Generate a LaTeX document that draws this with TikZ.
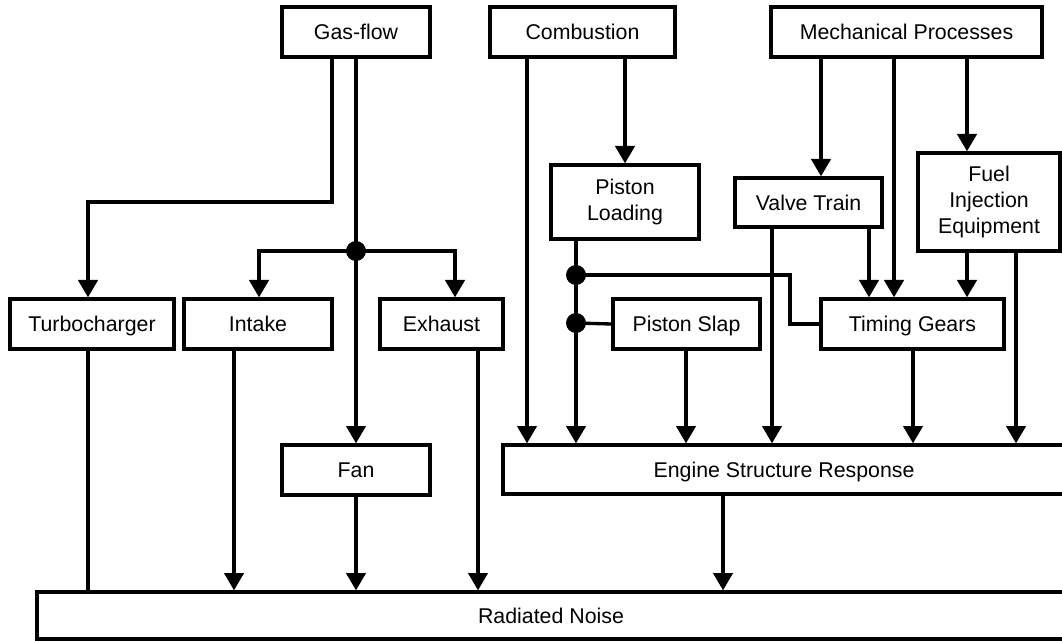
\documentclass[tikz,border=0pt]{standalone}
\usepackage{fontspec}
\setmainfont{Liberation Sans}
\usetikzlibrary{arrows.meta}
\tikzset{
  bx/.style n args={2}{draw=black, line width=2.5pt, fill=white, inner sep=0pt,
    minimum width=#1*0.75pt, minimum height=#2*0.75pt, align=center,
    font=\fontsize{16}{19.5}\selectfont},
  one/.style={text height=13.2pt, text depth=1.7pt},
  arr/.style={line width=2.5pt, -{Triangle[width=14.5pt,length=13pt]}},
  ln/.style={line width=2.5pt},
  jdot/.style={circle, fill=black, inner sep=0pt, minimum size=15pt},
}
\begin{document}
\begin{tikzpicture}[x=0.75pt,y=-0.75pt]
\useasboundingbox (0,0) rectangle (1062,641);
% boxes
\node[bx={148}{50},one] (gas) at (356,32) {Gas-flow};
\node[bx={185}{50},one] (comb) at (582.5,32) {Combustion};
\node[bx={271}{50},one] (mech) at (906.5,32) {Mechanical Processes};
\node[bx={148}{74}] (pload) at (625,202) {Piston\\Loading};
\node[bx={147}{49},one] (valve) at (808.5,202.5) {Valve Train};
\node[bx={142}{98}] (fuel) at (989,202) {Fuel\\Injection\\Equipment};
\node[bx={164}{50},one] (turbo) at (92,324) {Turbocharger};
\node[bx={148}{50},one] (intake) at (258,324) {Intake};
\node[bx={123}{50},one] (exhaust) at (441.5,324) {Exhaust};
\node[bx={147}{50},one] (pslap) at (686.5,324) {Piston Slap};
\node[bx={183}{50},one] (timing) at (912.5,324) {Timing Gears};
\node[bx={148}{50},one] (fan) at (356,470) {Fan};
\node[bx={562}{49},one] (esr) at (784,469.5) {Engine Structure Response};
\node[bx={1028}{47},one] (rad) at (551,615.5) {Radiated Noise};
% junction dots
\node[jdot] (j1) at (356,251) {};
\node[jdot] (j2) at (576,275) {};
\node[jdot] (j3) at (576,323) {};
% gas-flow
\draw[arr] (gas.south -| 332,0) |- (88,202) -- (turbo.north -| 88,0);
\draw[arr] (gas.south) -- (fan.north);
\draw[arr] (j1.center) -| (intake.north -| 259,0);
\draw[arr] (j1.center) -| (exhaust.north -| 455,0);
% to radiated noise
\draw[ln] (turbo.south -| 88,0) -- (rad.north -| 88,0);
\draw[arr] (intake.south -| 234,0) -- (rad.north -| 234,0);
\draw[arr] (fan.south) -- (rad.north -| fan.south);
\draw[arr] (exhaust.south -| 478,0) -- (rad.north -| 478,0);
\draw[arr] (esr.south -| 723,0) -- (rad.north -| 723,0);
% combustion
\draw[arr] (comb.south -| 527,0) -- (esr.north -| 527,0);
\draw[arr] (comb.south -| pload.north) -- (pload.north);
\draw[arr] (pload.south -| 576,0) -- (esr.north -| 576,0);
\draw[ln] (j2.center) -- (790,275) |- (timing.west);
\draw[ln] (j3.center) -- (pslap.west);
\draw[arr] (pslap.south -| 686,0) -- (esr.north -| 686,0);
% mechanical
\draw[arr] (mech.south -| 821,0) -- (valve.north -| 821,0);
\draw[arr] (mech.south -| 894,0) -- (timing.north -| 894,0);
\draw[arr] (mech.south -| 967,0) -- (fuel.north -| 967,0);
\draw[arr] (valve.south -| 772,0) -- (esr.north -| 772,0);
\draw[arr] (valve.south -| 869,0) -- (timing.north -| 869,0);
\draw[arr] (fuel.south -| 967,0) -- (timing.north -| 967,0);
\draw[arr] (fuel.south -| 1016,0) -- (esr.north -| 1016,0);
\draw[arr] (timing.south -| 913,0) -- (esr.north -| 913,0);
\end{tikzpicture}
\end{document}
